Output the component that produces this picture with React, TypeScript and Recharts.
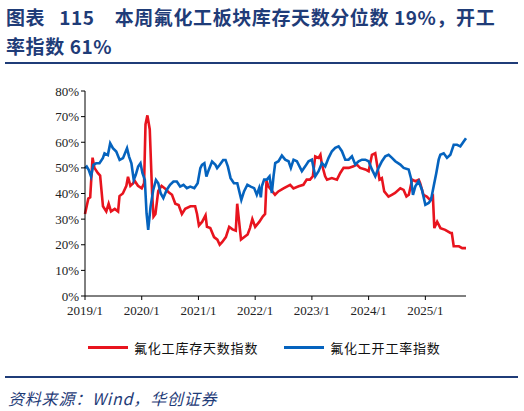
import React from "react";
import { LineChart, Line, XAxis, YAxis } from "recharts";

// months since 2019/1
const inventoryMonths = [0, 0.7, 1.1, 1.6, 2.0, 2.7, 3.2, 3.8, 4.5, 5.0, 5.5, 6.3, 7.0, 7.3, 8.0, 8.75, 9.1, 9.6, 10.2, 10.5, 11.2, 12.0, 12.5, 12.8, 13.2, 13.7, 14.2, 14.5, 14.9, 15.5, 16.2, 16.9, 17.7, 18.4, 19.1, 19.8, 20.5, 21.2, 22.3, 23.3, 23.7, 24.1, 24.8, 25.5, 25.8, 26.5, 27.3, 28.0, 28.5, 29.0, 29.8, 30.5, 31.2, 31.9, 32.2, 32.6, 33.0, 33.7, 34.4, 34.9, 35.4, 36.0, 36.9, 37.6, 38.1, 38.4, 38.8, 40.2, 40.9, 42.0, 43.4, 44.1, 45.2, 46.2, 46.9, 47.6, 48.2, 48.7, 49.4, 49.8, 50.1, 50.8, 51.2, 52.2, 53.3, 54.0, 54.7, 55.8, 56.8, 57.5, 58.2, 59.3, 60.0, 60.7, 61.4, 61.9, 62.3, 62.8, 63.3, 64.2, 64.9, 65.6, 66.7, 67.4, 68.0, 68.5, 69.2, 69.9, 70.6, 70.9, 71.6, 72.3, 73.0, 73.6, 73.9, 74.5, 75.2, 76.2, 77.3, 77.6, 78.0, 79.1, 79.8, 80.6];
const inventoryValues = [32, 38, 38.5, 54, 50, 48, 47, 35, 33, 36, 33, 34, 33, 39, 40, 43, 46.5, 43, 44, 45, 43, 42, 44, 67, 70.5, 65, 40, 31, 32, 41, 43, 42, 40.5, 39.5, 36, 35.5, 32, 34, 35, 35, 32, 27.5, 29, 31.5, 27, 26.5, 23, 22, 20, 21, 23, 27, 26, 25.5, 36, 29, 22, 23, 24, 26.5, 30, 27, 29, 31, 32, 45, 42.8, 39.5, 40.8, 42, 43.4, 42, 42.8, 43.4, 45.4, 45.4, 46.7, 54.5, 53.9, 55.1, 51.5, 46.7, 45.4, 46, 45.4, 48, 50, 50, 50.6, 51.3, 50, 49.4, 48.7, 55.1, 55.7, 50, 45.4, 46, 40.8, 38.8, 39.5, 40.2, 42, 41.4, 38.8, 39.5, 45.4, 44.8, 45.4, 44, 39.5, 38.8, 37.5, 38.8, 26.5, 29, 26.5, 25.8, 24.6, 24.6, 19.4, 19.4, 18.7, 18.7];

const operatingMonths = [0, 0.36, 0.78, 1.28, 1.78, 2.35, 3.06, 3.77, 4.13, 4.84, 5.33, 5.9, 6.61, 7.33, 8.04, 8.89, 9.32, 9.82, 10.31, 10.74, 11.24, 11.74, 12.16, 12.66, 13.02, 13.37, 13.87, 14.44, 15.01, 15.5, 16.0, 16.57, 17.28, 17.99, 18.71, 19.42, 20.13, 20.84, 21.55, 22.26, 23.12, 23.83, 24.4, 24.75, 25.25, 25.68, 26.17, 26.88, 27.6, 27.95, 28.52, 29.23, 29.73, 30.23, 30.8, 31.51, 32.22, 33.07, 33.64, 34.35, 35.06, 35.78, 36.34, 36.84, 37.2, 37.41, 37.9, 38.47, 39.04, 39.53, 39.88, 40.24, 40.94, 41.65, 42.35, 43.06, 43.55, 44.12, 44.82, 45.88, 46.59, 47.29, 48.0, 48.71, 49.41, 50.12, 50.82, 51.53, 52.23, 52.94, 53.65, 54.35, 55.06, 55.76, 56.47, 57.17, 57.88, 58.59, 59.29, 60.0, 60.7, 61.41, 62.11, 62.82, 63.53, 64.23, 64.94, 65.64, 66.7, 67.41, 68.47, 68.96, 69.38, 69.88, 70.58, 71.29, 72.0, 72.7, 73.19, 73.76, 74.32, 74.82, 75.17, 75.88, 76.58, 77.29, 78.0, 78.7, 79.4, 80.11, 80.6];
const operatingValues = [49.9, 50.5, 49.2, 46.6, 51.2, 51.8, 51.8, 53.8, 55.7, 55, 59.6, 57.7, 56.4, 53.1, 53.8, 57.7, 54.4, 51.8, 45.3, 47.3, 50.5, 51.8, 47.9, 45.3, 32.3, 25.8, 34.9, 41.4, 45.3, 44, 40.1, 38.2, 41.4, 43.4, 44.7, 44.7, 42.7, 43.4, 42.1, 42.7, 42.1, 44, 49.9, 51.2, 51.8, 46.6, 49.2, 52.5, 51.2, 49.9, 51.2, 53.1, 53.1, 50.5, 46, 44, 44, 37.5, 40.8, 43.4, 42.7, 42.1, 39.5, 42.1, 38.5, 42.8, 45.4, 45.4, 46.7, 40.2, 46.7, 51.9, 52.6, 54.8, 53.2, 52.6, 50, 53.2, 52.6, 48.7, 50.6, 52.6, 53.2, 46.7, 48.7, 51.9, 50.6, 53.9, 56.5, 57.8, 58.4, 56.5, 53.2, 53.2, 54.5, 51.3, 52.6, 53.2, 53.2, 52.6, 49.4, 46.7, 50, 52.6, 54.5, 55.1, 53.9, 52.6, 51.3, 50, 49.4, 46, 39.5, 42.8, 44.8, 41.4, 35.6, 36.3, 37.5, 42.8, 48, 53.2, 55.1, 55.7, 53.9, 55.1, 59, 59, 58.4, 60.3, 61.6];

const xTicks = [0, 12, 24, 36, 48, 60, 72];
const yTicks = [0, 10, 20, 30, 40, 50, 60, 70, 80];

const seriesNames = ["氟化工库存天数指数", "氟化工开工率指数"];
const titleLabel = "图表";
const titleNumber = "115";
const titleLine1 = "本周氟化工板块库存天数分位数 19%，开工";
const titleLine2 = "率指数 61%";
const sourceText = "资料来源：Wind，华创证券";

const RED = "#E8141E";
const BLUE = "#0563BE";
const NAVY = "#1F3C78";

const inventoryData = inventoryMonths.map((m, i) => ({ m, v: inventoryValues[i] }));
const operatingData = operatingMonths.map((m, i) => ({ m, v: operatingValues[i] }));

const tickFont = { fontFamily: "'Liberation Serif', 'Times New Roman', serif", fontSize: 13, fill: "#222" };
const cjk = "'Noto Sans CJK SC', 'Noto Sans', sans-serif";

export default function App() {
  return (
    <div style={{ position: "absolute", left: 0, top: 0, width: 524, height: 411, background: "#fff", overflow: "hidden" }}>
      <div style={{ position: "absolute", left: 6, top: 2, fontFamily: cjk, fontWeight: 700, fontSize: 19, color: NAVY, lineHeight: "29px", whiteSpace: "nowrap", letterSpacing: 0.6 }}>
        <div>
          <span>{titleLabel}</span>
          <span style={{ marginLeft: 14 }}>{titleNumber}</span>
          <span style={{ marginLeft: 20 }}>{titleLine1}</span>
        </div>
        <div>{titleLine2}</div>
      </div>
      <div style={{ position: "absolute", left: 5, top: 62, width: 513, height: 2, background: NAVY }} />
      <LineChart
        width={524}
        height={411}
        margin={{ top: 91, right: 58, bottom: 85, left: 44 }}
        style={{ position: "absolute", left: 0, top: 0 }}
      >
        <XAxis
          dataKey="m"
          type="number"
          domain={[0, 80.6]}
          ticks={xTicks}
          tickFormatter={(m: number) => `${2019 + m / 12}/1`}
          allowDuplicatedCategory={false}
          axisLine={{ stroke: "#000", strokeWidth: 1 }}
          tickLine={{ stroke: "#000" }}
          tickSize={4}
          tickMargin={6}
          height={30}
          tick={tickFont}
          interval={0}
        />
        <YAxis
          type="number"
          domain={[0, 80]}
          ticks={yTicks}
          tickFormatter={(v: number) => `${v}%`}
          axisLine={{ stroke: "#000", strokeWidth: 1 }}
          tickLine={{ stroke: "#000" }}
          tickSize={4}
          width={41}
          tick={tickFont}
          interval={0}
        />
        <Line data={inventoryData} dataKey="v" type="linear" stroke={RED} strokeWidth={2.6} dot={false} isAnimationActive={false} name={seriesNames[0]} />
        <Line data={operatingData} dataKey="v" type="linear" stroke={BLUE} strokeWidth={2.6} dot={false} isAnimationActive={false} name={seriesNames[1]} />
      </LineChart>
      <div style={{ position: "absolute", left: 88, top: 338, display: "flex", alignItems: "center", fontFamily: cjk, fontSize: 13, color: "#111", whiteSpace: "nowrap" }}>
        <span style={{ display: "inline-block", width: 40, height: 3, background: RED, marginRight: 6 }} />
        <span style={{ letterSpacing: 0.8 }}>{seriesNames[0]}</span>
        <span style={{ display: "inline-block", width: 40, height: 3, background: BLUE, marginLeft: 26, marginRight: 6 }} />
        <span style={{ letterSpacing: 0.8 }}>{seriesNames[1]}</span>
      </div>
      <div style={{ position: "absolute", left: 5, top: 376, width: 513, height: 2, background: NAVY }} />
      <div style={{ position: "absolute", left: 8, top: 386, fontFamily: cjk, fontStyle: "italic", fontSize: 16, color: NAVY, whiteSpace: "nowrap", letterSpacing: 0.8 }}>
        {sourceText}
      </div>
    </div>
  );
}
